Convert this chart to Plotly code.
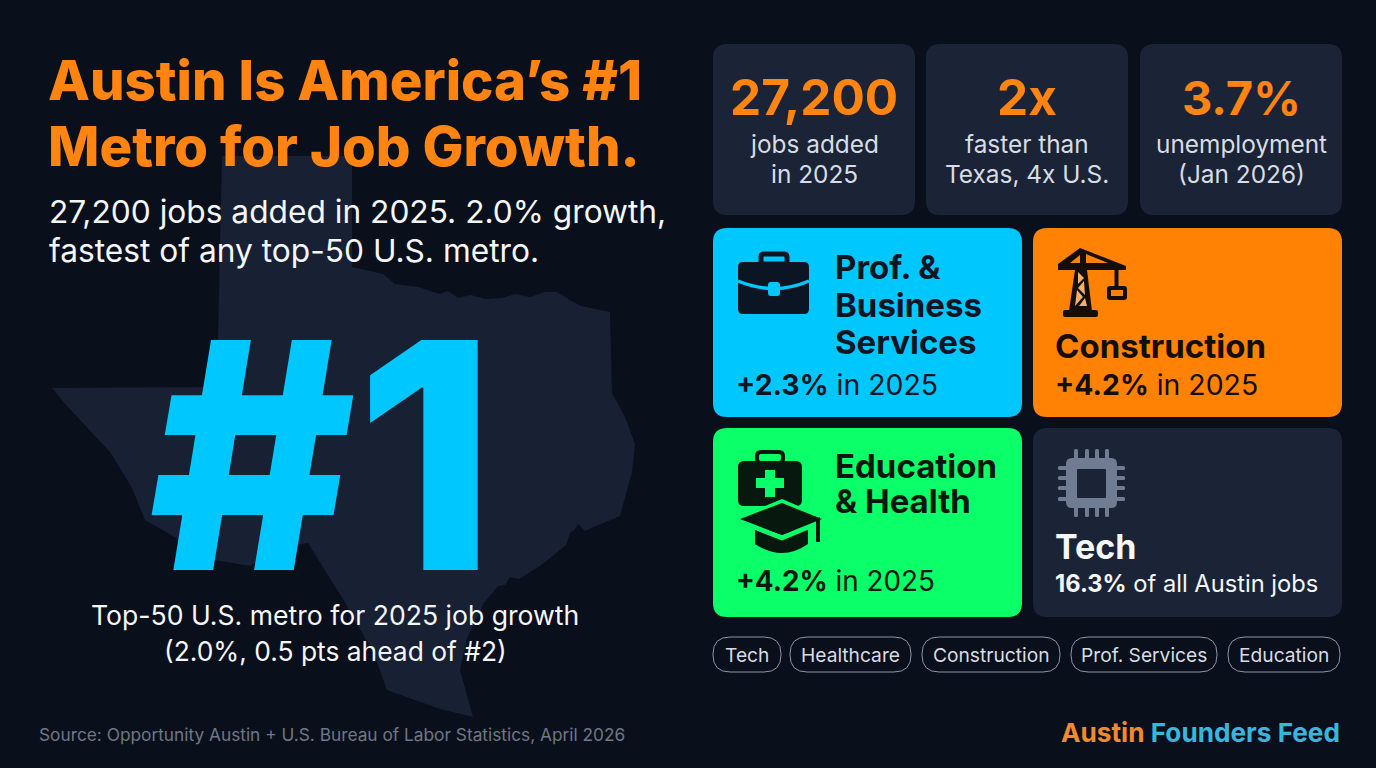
import plotly.graph_objects as go

# ---------- content ----------
title_lines = ["Austin Is America’s #1", "Metro for Job Growth."]
subtitle_lines = ["27,200 jobs added in 2025. 2.0% growth,", "fastest of any top-50 U.S. metro."]
rank_text = "#1"
caption_lines = ["Top-50 U.S. metro for 2025 job growth", "(2.0%, 0.5 pts ahead of #2)"]
source_text = "Source: Opportunity Austin + U.S. Bureau of Labor Statistics, April 2026"
stat_values = ["27,200", "2x", "3.7%"]
stat_line1 = ["jobs added", "faster than", "unemployment"]
stat_line2 = ["in 2025", "Texas, 4x U.S.", "(Jan 2026)"]
sector_names = [["Prof. &", "Business", "Services"], ["Construction"], ["Education", "& Health"], ["Tech"]]
sector_figures = ["+2.3%", "+4.2%", "+4.2%", "16.3%"]
sector_notes = ["in 2025", "in 2025", "in 2025", "of all Austin jobs"]
tag_labels = ["Tech", "Healthcare", "Construction", "Prof. Services", "Education"]
brand_a = "Austin"
brand_b = "Founders Feed"

# Texas outline
texas_x = [222, 352, 352, 366, 383, 395, 418, 440, 448, 458, 471, 485, 502, 515, 530, 545, 557, 570, 581, 610,
           612, 625, 635, 632, 620, 596, 585, 578, 574, 570, 566, 540, 519, 510, 505, 498, 484, 467, 460, 473,
           440, 387, 374, 343, 308, 280, 250, 215, 185, 145, 132, 110, 66, 52, 217]
texas_y = [156, 156, 267, 270, 274, 284, 287, 294, 291, 298, 295, 299, 298, 294, 297, 292, 292, 300, 306, 312,
           393, 417, 444, 472, 516, 526, 531, 524, 530, 533, 545, 566, 579, 577, 585, 586, 603, 638, 670, 717,
           709, 690, 654, 599, 543, 548, 566, 560, 543, 520, 488, 452, 405, 388, 387]

# ---------- style ----------
BG = "#0a0f1c"
TEXAS = "#182033"
CARD = "#1a2436"
ORANGE = "#ff8412"
CYAN = "#00c8ff"
GREEN = "#0aff68"
CONSTR = "#ff8205"
INK = "#0b1524"
WHITE = "#f4f6f8"
FONT = "Inter"


def rrect(x0, y0, x1, y1, r):
    return (f"M{x0+r},{y0} L{x1-r},{y0} Q{x1},{y0} {x1},{y0+r} L{x1},{y1-r} Q{x1},{y1} {x1-r},{y1} "
            f"L{x0+r},{y1} Q{x0},{y1} {x0},{y1-r} L{x0},{y0+r} Q{x0},{y0} {x0+r},{y0} Z")


shapes = []
notes = []


def fill(path, color):
    shapes.append(dict(type="path", path=path, fillcolor=color, line=dict(width=0), layer="above"))


def stroke(path, color, w):
    shapes.append(dict(type="path", path=path, line=dict(color=color, width=w), fillcolor="rgba(0,0,0,0)", layer="above"))


def box(x0, y0, x1, y1, r, color):
    fill(rrect(x0, y0, x1, y1, r), color)


def txt(x, y, s, size, color, anchor="left", bold=False, weight=None):
    f = dict(family=FONT, size=size, color=color)
    if weight:
        f["weight"] = weight
    notes.append(dict(x=x, y=y, xref="x", yref="y", text=f"<b>{s}</b>" if bold else s, showarrow=False,
                      xanchor=anchor, yanchor="middle", align=anchor, borderpad=0, borderwidth=0, font=f))


fig = go.Figure()
fig.add_trace(go.Scatter(x=texas_x, y=texas_y, mode="lines", fill="toself", fillcolor=TEXAS,
                         line=dict(width=0, color=TEXAS), hoverinfo="skip", showlegend=False))

# left column
txt(48, 80, title_lines[0], 54.5, ORANGE, weight=800)
txt(48, 146, title_lines[1], 54.5, ORANGE, weight=800)
txt(49, 211, subtitle_lines[0], 31.7, WHITE)
txt(49, 250, subtitle_lines[1], 31.7, WHITE)
txt(322, 455, rank_text, 316, CYAN, "center", weight=800)
txt(335, 615, caption_lines[0], 26.6, WHITE, "center")
txt(335, 651, caption_lines[1], 26.4, WHITE, "center")
txt(39, 734, source_text, 17.3, "#6f7886")

# stat cards
stat_boxes = [(713, 915), (926, 1128), (1140, 1342)]
stat_sizes = [49.5, 49.5, 47]
for (x0, x1), v, a, b, sz in zip(stat_boxes, stat_values, stat_line1, stat_line2, stat_sizes):
    box(x0, 44, x1, 215, 14, CARD)
    c = (x0 + x1) / 2
    txt(c, 97, v, sz, ORANGE, "center", True)
    txt(c, 144, a, 24.4, "#d8dce3", "center")
    txt(c, 174, b, 24.4, "#d8dce3", "center")

# sector cards
box(713, 228, 1022, 417, 14, CYAN)
box(1033, 228, 1342, 417, 14, CONSTR)
box(713, 428, 1022, 617, 14, GREEN)
box(1033, 428, 1342, 617, 14, CARD)

for s, y in zip(sector_names[0], [267, 305, 342]):
    txt(835, y, s, 33, INK, bold=True)
txt(736, 384, f"<b>{sector_figures[0]}</b> {sector_notes[0]}", 28.4, INK)
txt(1055, 346, sector_names[1][0], 33, "#140d08", bold=True)
txt(1055, 384, f"<b>{sector_figures[1]}</b> {sector_notes[1]}", 28.4, "#140d08")
for s, y in zip(sector_names[2], [466, 501]):
    txt(835, y, s, 33, "#07190f", bold=True)
txt(736, 581, f"<b>{sector_figures[2]}</b> {sector_notes[2]}", 27.8, "#07190f")
txt(1055, 546, sector_names[3][0], 34, WHITE, bold=True)
txt(1055, 583, f"<b>{sector_figures[3]}</b> {sector_notes[3]}", 23.7, WHITE)

# briefcase
stroke(rrect(761, 254, 787, 264, 3), INK, 5)
box(738, 262, 809, 314, 5, INK)
stroke("M738,281 Q774,296 809,281", CYAN, 3.5)
box(768, 282, 780, 296, 3, CYAN)

# crane
CR = "#140d08"
fill("M1080,248 L1126,266 L1126,270 L1058,270 L1058,264 Z", CR)
fill("M1080,255 L1070,263 L1080,263 Z", CONSTR)
fill("M1086,254 L1086,263 L1108,263 Z", CONSTR)
fill("M1075,270 L1087,270 L1092,311 L1069,311 Z", CR)
for p in ["M1078,272 L1084,278 L1078,284 Z", "M1084,281 L1078,288 L1085,295 Z",
          "M1077,290 L1083,297 L1075,306 Z", "M1085,298 L1079,306 L1087,306 Z"]:
    fill(p, "#f2b070")
box(1063, 310, 1098, 317, 2, CR)
fill("M1114.5,270 L1118.5,270 L1118.5,287 L1114.5,287 Z", CR)
stroke(rrect(1109, 288, 1125, 298, 1), CR, 4)

# med kit and mortarboard
DK = "#07190f"
stroke(rrect(757, 452, 783, 463, 4), DK, 4)
box(738, 461, 802, 506, 6, DK)
fill("M765,470 L775,470 L775,478 L784,478 L784,488 L775,488 L775,497 L765,497 L765,488 L756,488 L756,478 L765,478 Z", GREEN)
fill("M734,519 L782,499 L829,519 L782,540 Z", GREEN)
fill("M755,530 L808,530 L808,544 Q782,562 755,544 Z", DK)
fill("M745,521 L782,535 L817,521 L817,526 L782,540.5 L745,526 Z", GREEN)
fill("M740,519 L782,503 L822,519 L782,535 Z", DK)
fill("M816,519 L820,517 L820,542 L816,542 Z", DK)

# chip
CHIP = "#6f7c92"
for x in [1076, 1087, 1097, 1107]:
    box(x - 2, 449, x + 2, 517, 1.5, CHIP)
for y in [468, 478, 488, 499]:
    box(1058, y - 2, 1125, y + 2, 1.5, CHIP)
box(1066, 458, 1117, 508, 6, CHIP)
box(1077, 469, 1106, 498, 1, CARD)

# tags
tag_boxes = [(713, 781), (790, 911), (922, 1060), (1071, 1217), (1228, 1340)]
for (x0, x1), t in zip(tag_boxes, tag_labels):
    shapes.append(dict(type="path", path=rrect(x0, 637, x1, 672, 17), fillcolor="rgba(0,0,0,0)",
                       line=dict(color="#8d95a3", width=1), layer="above"))
    txt((x0 + x1) / 2, 654.5, t, 19.2, "#d8dce3", "center")

# brand
txt(1340, 732, f'<b><span style="color:#f08a2c">{brand_a}</span> <span style="color:#38b6dc">{brand_b}</span></b>',
    26.2, "#38b6dc", "right")

fig.update_layout(
    width=1376, height=768, margin=dict(l=0, r=0, t=0, b=0),
    paper_bgcolor=BG, plot_bgcolor=BG, showlegend=False, hovermode=False,
    xaxis=dict(range=[0, 1376], visible=False, fixedrange=True),
    yaxis=dict(range=[768, 0], visible=False, fixedrange=True),
    shapes=shapes, annotations=notes,
    font=dict(family=FONT),
)
fig.write_html("out.html", config=dict(displayModeBar=False),
               post_script="document.body.style.margin='0';document.body.style.background='#0a0f1c';")
